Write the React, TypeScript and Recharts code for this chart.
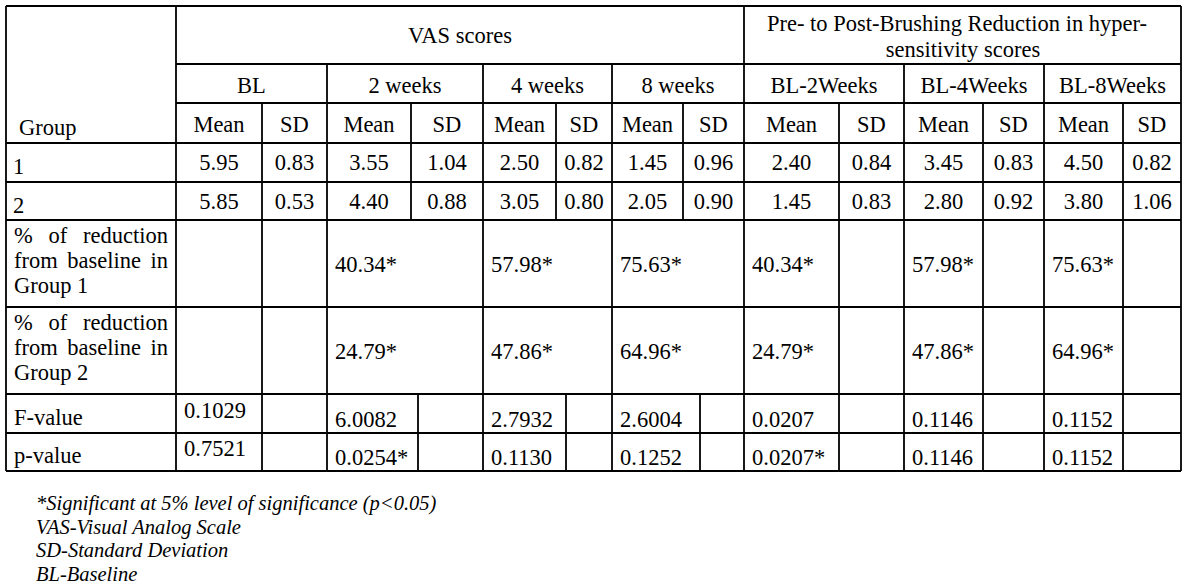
import React from "react";
import { ComposedChart, XAxis, YAxis, Scatter, ReferenceLine } from "recharts";

// ---------------- data ----------------
const groupLabels = ["1", "2"];
const sectionTitles = ["VAS scores", "Pre- to Post-Brushing Reduction in hyper-|sensitivity scores"];
const periodLabels = ["BL", "2 weeks", "4 weeks", "8 weeks", "BL-2Weeks", "BL-4Weeks", "BL-8Weeks"];
const statLabels = ["Mean", "SD"];
const group1Mean = [5.95, 3.55, 2.5, 1.45, 2.4, 3.45, 4.5];
const group1SD = [0.83, 1.04, 0.82, 0.96, 0.84, 0.83, 0.82];
const group2Mean = [5.85, 4.4, 3.05, 2.05, 1.45, 2.8, 3.8];
const group2SD = [0.53, 0.88, 0.8, 0.9, 0.83, 0.92, 1.06];
const reductionGroup1 = ["40.34*", "57.98*", "75.63*"];
const reductionGroup2 = ["24.79*", "47.86*", "64.96*"];
const reductionLabels = [
  ["% of reduction", "from baseline in", "Group 1"],
  ["% of reduction", "from baseline in", "Group 2"],
];
const fValues = ["0.1029", "6.0082", "2.7932", "2.6004", "0.0207", "0.1146", "0.1152"];
const pValues = ["0.7521", "0.0254*", "0.1130", "0.1252", "0.0207*", "0.1146", "0.1152"];
const testLabels = ["F-value", "p-value"];
const footnotes = [
  "*Significant at 5% level of significance (p<0.05)",
  "VAS-Visual Analog Scale",
  "SD-Standard Deviation",
  "BL-Baseline",
];

// ---------------- layout ----------------
const W = 1200;
const H = 587;
const FONT = '"Liberation Serif", "Times New Roman", serif';
const FS = 22.5;
const FOOT_FS = 20.5;
const LW = 1.8;

const L = 6;
const R = 1181;
const GROUP_R = 176;
// period column edges [left, meanSdSplit, right]
const periodCols: [number, number, number][] = [
  [176, 262, 327],
  [327, 411, 483],
  [483, 556, 612],
  [612, 683, 744],
  [744, 839, 904],
  [904, 983, 1044],
  [1044, 1123, 1181],
];
const testSplits = [262, 418, 566, 700, 839, 983, 1123];
const rowsY = [6, 64, 103, 143, 182, 220, 307, 394, 433, 471];

let ctx: CanvasRenderingContext2D | null = null;
function measure(text: string, size: number, italic = false) {
  if (!ctx) {
    const c = document.createElement("canvas");
    ctx = c.getContext("2d");
  }
  if (!ctx) return text.length * size * 0.45;
  ctx.font = `${italic ? "italic " : ""}${size}px "Liberation Serif"`;
  return ctx.measureText(text).width;
}

type Item = { x: number; y: number; text: string; anchor: string; size: number; italic: boolean };
const items: Item[] = [];
const add = (x: number, y: number, text: string, anchor = "middle", size = FS, italic = false) =>
  items.push({ x, y, text, anchor, size, italic });

// header
add(460, 43, sectionTitles[0]);
const [pre1, pre2] = sectionTitles[1].split("|");
add(957, 30.7, pre1);
add(963, 56.7, pre2);
periodLabels.forEach((p, i) => {
  const [a, , c] = periodCols[i];
  add((a + c) / 2, 92.7, p);
});
add(19, 135, "Group", "start");
periodCols.forEach(([a, b, c]) => {
  add((a + b) / 2, 131.7, statLabels[0]);
  add((b + c) / 2, 131.7, statLabels[1]);
});
// group rows
const groupMeans = [group1Mean, group2Mean];
const groupSDs = [group1SD, group2SD];
const groupBase = [170, 209];
groupLabels.forEach((g, gi) => {
  add(13, groupBase[gi] + 4, g, "start");
  periodCols.forEach(([a, b, c], i) => {
    add((a + b) / 2, groupBase[gi], groupMeans[gi][i].toFixed(2));
    add((b + c) / 2, groupBase[gi], groupSDs[gi][i].toFixed(2));
  });
});
// reduction rows
const redVals = [reductionGroup1, reductionGroup2];
const redTop = [rowsY[5], rowsY[6]];
const redValBase = [272, 359];
reductionLabels.forEach((lines, ri) => {
  lines.forEach((line, li) => {
    const y = redTop[ri] + 23 + li * 25;
    const words = line.split(" ");
    if (li === lines.length - 1 || words.length < 3) {
      add(14, y, line, "start");
    } else {
      const left = 14;
      const right = 168;
      const w0 = measure(words[0], FS);
      const w2 = measure(words[2], FS);
      add(left, y, words[0], "start");
      add(right, y, words[2], "end");
      add((left + w0 + right - w2) / 2, y, words[1], "middle");
    }
  });
  const vals = redVals[ri];
  [1, 2, 3].forEach((ci, k) => add(periodCols[ci][0] + 8, redValBase[ri], vals[k], "start"));
  [4, 5, 6].forEach((ci, k) => add(periodCols[ci][0] + 8, redValBase[ri], vals[k], "start"));
});
// F / p rows
const testVals = [fValues, pValues];
const testLabelBase = [425, 463];
testVals.forEach((vals, ti) => {
  add(14, testLabelBase[ti], testLabels[ti], "start");
  vals.forEach((v, i) => {
    const y = i === 0 ? testLabelBase[ti] - 7 : testLabelBase[ti] + 1.5;
    add(periodCols[i][0] + 8, y, v, "start");
  });
});
// footnotes
footnotes.forEach((f, i) => add(36, 510 + i * 23.5, f, "start", FOOT_FS, true));

// grid segments
type Seg = [number, number, number, number];
const segs: Seg[] = [];
segs.push([L, rowsY[0], R, rowsY[0]]);
segs.push([GROUP_R, rowsY[1], R, rowsY[1]]);
segs.push([GROUP_R, rowsY[2], R, rowsY[2]]);
rowsY.slice(3).forEach((y) => segs.push([L, y, R, y]));
[L, GROUP_R, R, 744].forEach((x) => segs.push([x, rowsY[0], x, rowsY[9]]));
[327, 483, 612, 904, 1044].forEach((x) => segs.push([x, rowsY[1], x, rowsY[9]]));
periodCols.forEach(([, b]) => segs.push([b, rowsY[2], b, rowsY[5]]));
[262, 839, 983, 1123].forEach((x) => segs.push([x, rowsY[5], x, rowsY[7]]));
testSplits.forEach((x) => segs.push([x, rowsY[7], x, rowsY[9]]));

const TextShape = (props: any) => {
  const { cx, cy, payload } = props;
  return (
    <text
      x={cx}
      y={cy}
      textAnchor={payload.anchor}
      fontSize={payload.size}
      fontStyle={payload.italic ? "italic" : "normal"}
      fontFamily={FONT}
      fill="#000"
    >
      {payload.text}
    </text>
  );
};

export default function App() {
  return (
    <div style={{ position: "absolute", left: 0, top: 0, width: W, height: H, background: "#fff" }}>
      <ComposedChart width={W} height={H} margin={{ top: 0, right: 0, bottom: 0, left: 0 }} data={items}>
        <XAxis type="number" dataKey="x" domain={[0, W]} allowDataOverflow hide />
        <YAxis type="number" dataKey="y" domain={[0, H]} reversed allowDataOverflow hide />
        {segs.map((s, i) => (
          <ReferenceLine
            key={i}
            segment={[
              { x: s[0], y: s[1] },
              { x: s[2], y: s[3] },
            ]}
            stroke="#000"
            strokeWidth={LW}
            ifOverflow="visible"
          />
        ))}
        <Scatter data={items} dataKey="y" shape={TextShape} isAnimationActive={false} />
      </ComposedChart>
    </div>
  );
}
